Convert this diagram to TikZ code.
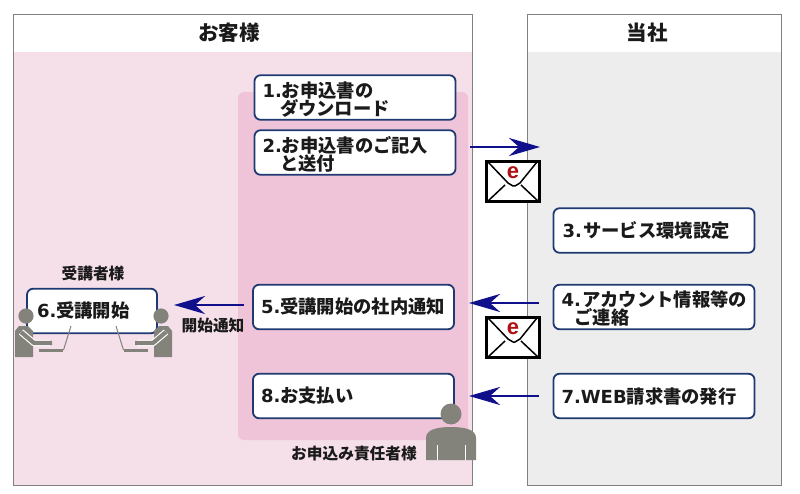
\documentclass[tikz,border=0pt]{standalone}
\usepackage{fontspec}
\usetikzlibrary{arrows.meta}
\setmainfont{DejaVu Sans}
\newfontfamily\cjkf{Noto Sans CJK JP}
\newfontfamily\mailf{Liberation Sans}
\newcommand\lb{\normalfont\bfseries}
\newcommand\jp{\cjkf\bfseries\fontsize{18.3}{18}\selectfont}
\newcommand\jpsmall{\cjkf\bfseries\fontsize{15.7}{16}\selectfont}
\newcommand\lift{\rule{0pt}{19pt}}
\definecolor{panelline}{HTML}{808080}
\definecolor{pinkbg}{HTML}{F5DFE9}
\definecolor{pinkdark}{HTML}{F0C4D8}
\definecolor{greybg}{HTML}{EDEDED}
\definecolor{boxline}{HTML}{1F3A73}
\definecolor{arrowblue}{HTML}{10108C}
\definecolor{figgrey}{HTML}{83837B}
\definecolor{ink}{HTML}{1A1A1A}
\definecolor{mailred}{HTML}{B01010}
\tikzset{
  x=1pt,y=-1pt,
  stepbox/.style={draw=boxline,line width=1.8pt,fill=white,rounded corners=6pt,inner sep=0pt,
    minimum width=#1,text width=#1-16pt,align=left,minimum height=44.5pt,text=ink,
    font=\fontsize{18}{18}\selectfont},
  stepbox/.default=201pt,
  conn/.style={draw=arrowblue,line width=2.8pt,-{Stealth[length=31pt,width=18pt,inset=10pt]}},
  title/.style={font=\fontsize{20.5}{21}\selectfont\cjkf\bfseries,text=ink,inner sep=0pt},
  caption/.style={font=\jpsmall,text=ink,inner sep=0pt},
  panel/.style={draw=panelline,line width=1pt},
}
\newcommand\seated{%
  \fill[figgrey] (26,316) circle (7.6);
  \fill[figgrey] (15,357)--(15,331)--(19,326)--(28,326)--(33,331)--(33,357)--cycle;
  \draw[white,line width=6.5pt,line join=round] (21,332)--(34,343)--(50,343);
  \draw[figgrey,line width=4.2pt,line join=round] (21,332)--(34,343)--(52,343);
  \draw[figgrey,line width=2.6pt] (39,350.5)--(63,350.5);
  \draw[figgrey,line width=1pt] (63.5,350)--(71,326);
}
\newcommand\envelope[2]{%
  \node[draw=black,line width=3pt,fill=white,minimum width=53pt,minimum height=40pt,inner sep=0pt] (#1) at (#2) {};
  \draw[black,line width=1.5pt,line join=round] (#1.north west)++(3,2) -- ++(20,21) -- ++(5,3) -- ++(2,0) -- ++(5,-3) -- ++(17,-21);
  \draw[black,line width=1.5pt] (#1.south west)++(3,-2) -- ++(17,-16);
  \draw[black,line width=1.5pt] (#1.south east)++(-3,-2) -- ++(-17,-16);
  \node[font=\fontsize{22}{22}\mailf\bfseries,text=mailred,inner sep=0pt] at ([yshift=8.5pt]#1.center) {e};
}
\begin{document}
\begin{tikzpicture}
\useasboundingbox (0,0) rectangle (800,494);
\fill[white] (0,0) rectangle (800,494);
% panels
\fill[pinkbg] (13,52) rectangle (472,485);
\fill[greybg] (527,52) rectangle (781,485);
\draw[panel] (13,15) rectangle (472,485);
\draw[panel] (527,15) rectangle (781,485);
\fill[pinkdark,rounded corners=6pt] (238,92) rectangle (468,440);
\node[title] (tcust) at (229,33) {お客様};
\node[title] (tus) at (647,33) {当社};
% step boxes
\node[stepbox] (b1) at (355,97.5) {\lift\lb 1.\jp お申込書の\\\hspace*{17.5pt}\jp ダウンロード};
\node[stepbox] (b2) at (355,152.5) {\lift\lb 2.\jp お申込書のご記入\\\hspace*{17.5pt}\jp と送付};
\node[stepbox] (b3) at (654,230.5) {\hspace*{1pt}\lb 3.\hspace{1.5pt}\jp サービス環境設定};
\node[stepbox] (b4) at (654,307) {\lift\mbox{\lb 4.\hspace{1.5pt}\jp アカウント情報等の}\\\hspace*{13pt}\jp ご連絡};
\node[stepbox] (b5) at (353.5,307) {\lb 5.\jp 受講開始の社内通知};
\node[stepbox=130pt] (b6) at (92,311) {\hspace*{2pt}\lb 6.\jp 受講開始};
\node[stepbox] (b7) at (654,396) {\lb 7.WEB\jp 請求書の発行};
\node[stepbox] (b8) at (353.5,396) {\lb 8.\jp お支払い};
% seated people
\seated
\begin{scope}[xshift=187pt,xscale=-1]
\seated
\end{scope}
% responsible person
\fill[figgrey] (451,414) circle (10.5);
\fill[figgrey] (426,460)--(426,438) .. controls (426,430) and (436,427) .. (451,427) .. controls (466,427) and (476,430) .. (476,438)--(476,460)--cycle;
\fill[white] (436.5,445) rectangle (437.7,460);
\fill[white] (464.5,445) rectangle (465.7,460);
% captions
\node[caption] (c6) at (93,273) {受講者様};
\node[caption] (cn) at (213,326) {開始通知};
\node[caption] (cp) at (354,454) {お申込み責任者様};
% connectors
\coordinate (a1s) at (470,147); \coordinate (a1e) at (540,147);
\coordinate (a4s) at (539,303); \coordinate (a4e) at (469,303);
\coordinate (a7s) at (539,396); \coordinate (a7e) at (469,396);
\coordinate (a5s) at (244,305); \coordinate (a5e) at (174,305);
\draw[conn] (a1s) -- (a1e);
\draw[conn] (a4s) -- (a4e);
\draw[conn] (a7s) -- (a7e);
\draw[conn] (a5s) -- (a5e);
% envelopes
\envelope{m1}{513,181.5}
\envelope{m2}{513,337.5}
\end{tikzpicture}
\end{document}
